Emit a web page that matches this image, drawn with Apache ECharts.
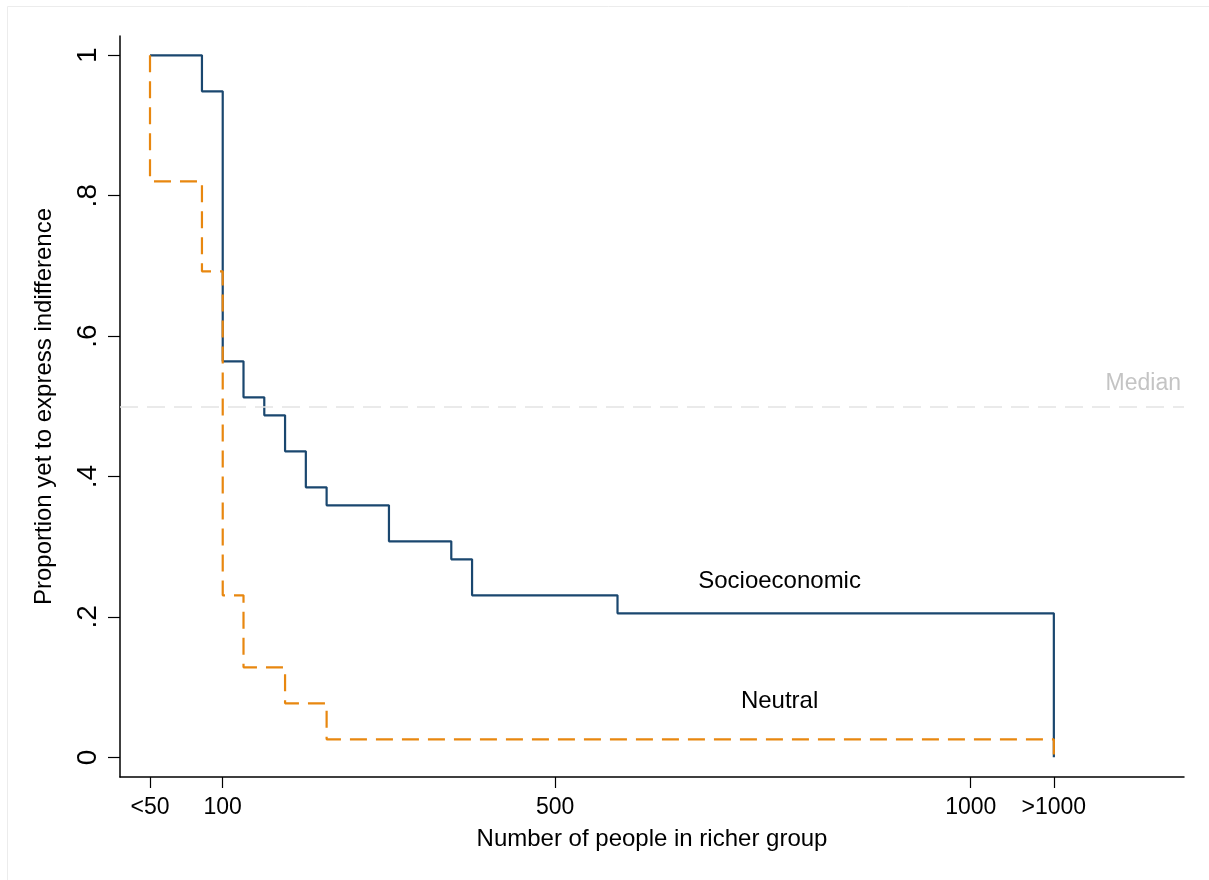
<!DOCTYPE html>
<html>
<head>
<meta charset="utf-8">
<script src="https://cdn.jsdelivr.net/npm/echarts@6/dist/echarts.min.js"></script>
<style>
html,body{margin:0;padding:0;background:#fff;}
#chart{width:1209px;height:880px;}
</style>
</head>
<body>
<div id="chart"></div>
<script>
// Tick positions and labels
var xTickValues = [12.5, 100, 500, 1000, 1100];
var xTickLabels = ['<50', '100', '500', '1000', '>1000'];
var yTickValues = [0, 0.2, 0.4, 0.6, 0.8, 1];
var yTickLabels = ['0', '.2', '.4', '.6', '.8', '1'];

// Socioeconomic survival curve (x = people in richer group, y = proportion)
var socioX = [12.5, 75, 100, 125, 150, 175, 200, 225, 300, 375, 400, 575, 1100];
var socioY = [1, 0.9487, 0.5641, 0.5128, 0.4872, 0.4359, 0.3846, 0.3590, 0.3077, 0.2821, 0.2308, 0.2051, 0];

// Neutral survival curve
var neutralX = [12.5, 12.5, 75, 100, 125, 175, 225, 1100];
var neutralY = [1, 0.8205, 0.6923, 0.2308, 0.1282, 0.0769, 0.0256, 0];

var medianValue = 0.5;

function zip(xs, ys) { return xs.map(function (x, i) { return [x, ys[i]]; }); }

var font = '"Liberation Sans", Arial, Helvetica, sans-serif';
var chart = echarts.init(document.getElementById('chart'), null, {renderer: 'canvas'});

var option = {
  animation: false,
  backgroundColor: '#ffffff',
  grid: {left: 120, right: 25, top: 36, bottom: 103, containLabel: false},
  graphic: [
    {type: 'line', shape: {x1: 7.5, y1: 6.5, x2: 1209, y2: 6.5}, style: {stroke: '#ececec', lineWidth: 1}, silent: true},
    {type: 'line', shape: {x1: 7.5, y1: 6.5, x2: 7.5, y2: 880}, style: {stroke: '#ececec', lineWidth: 1}, silent: true}
  ],
  xAxis: {
    type: 'value',
    min: -23.6,
    max: 1256.6,
    name: 'Number of people in richer group',
    nameLocation: 'middle',
    nameGap: 50,
    nameTextStyle: {fontFamily: font, fontSize: 24, color: '#000'},
    axisLine: {show: true, onZero: false, lineStyle: {color: '#000', width: 1.5}},
    axisTick: {show: true, length: 11, customValues: xTickValues, lineStyle: {color: '#000', width: 1.2}},
    axisLabel: {
      customValues: xTickValues,
      margin: 19,
      fontFamily: font, fontSize: 23, color: '#000',
      formatter: function (v) {
        var i = xTickValues.indexOf(v);
        return i >= 0 ? xTickLabels[i] : '';
      }
    },
    splitLine: {show: false}
  },
  yAxis: {
    type: 'value',
    min: -0.028,
    max: 1.0275,
    name: 'Proportion yet to express indifference',
    nameLocation: 'middle',
    nameGap: 64,
    nameTextStyle: {fontFamily: font, fontSize: 24, color: '#000'},
    axisLine: {show: true, onZero: false, lineStyle: {color: '#000', width: 1.5}},
    axisTick: {show: true, length: 12, customValues: yTickValues, lineStyle: {color: '#000', width: 1.2}},
    axisLabel: {
      customValues: yTickValues,
      rotate: 90,
      margin: 18,
      fontFamily: font, fontSize: 28, color: '#000',
      formatter: function (v) {
        for (var i = 0; i < yTickValues.length; i++) {
          if (Math.abs(yTickValues[i] - v) < 1e-9) return yTickLabels[i];
        }
        return '';
      }
    },
    splitLine: {show: false}
  },
  series: [
    {
      name: 'Median',
      type: 'line',
      data: [],
      silent: true,
      markLine: {
        silent: true,
        symbol: ['none', 'none'],
        lineStyle: {color: '#e4e4e4', width: 1.5, type: [18, 9]},
        label: {
          show: true,
          position: 'insideEndTop',
          distance: [3, 11],
          formatter: 'Median',
          fontFamily: font, fontSize: 23, color: '#c4c4c4'
        },
        data: [{yAxis: medianValue}]
      }
    },
    {
      name: 'Socioeconomic',
      type: 'line',
      step: 'end',
      showSymbol: false,
      data: zip(socioX, socioY),
      lineStyle: {color: '#1a476f', width: 2.2},
      itemStyle: {color: '#1a476f'},
      z: 3
    },
    {
      name: 'Neutral',
      type: 'line',
      step: 'end',
      showSymbol: false,
      data: zip(neutralX, neutralY),
      lineStyle: {color: '#e8870f', width: 2.2, type: [17, 9]},
      itemStyle: {color: '#e8870f'},
      z: 4
    },
    {
      name: 'Labels',
      type: 'scatter',
      symbolSize: 0,
      silent: true,
      z: 5,
      itemStyle: {opacity: 1},
      data: [
        {value: [770, 0.25], label: {formatter: 'Socioeconomic', fontSize: 24, color: '#000', fontFamily: font}},
        {value: [770, 0.08], label: {formatter: 'Neutral', fontSize: 24, color: '#000', fontFamily: font}}
      ],
      label: {show: true, position: 'inside', fontFamily: font, color: '#000', opacity: 1}
    }
  ]
};
chart.setOption(option);
</script>
</body>
</html>
